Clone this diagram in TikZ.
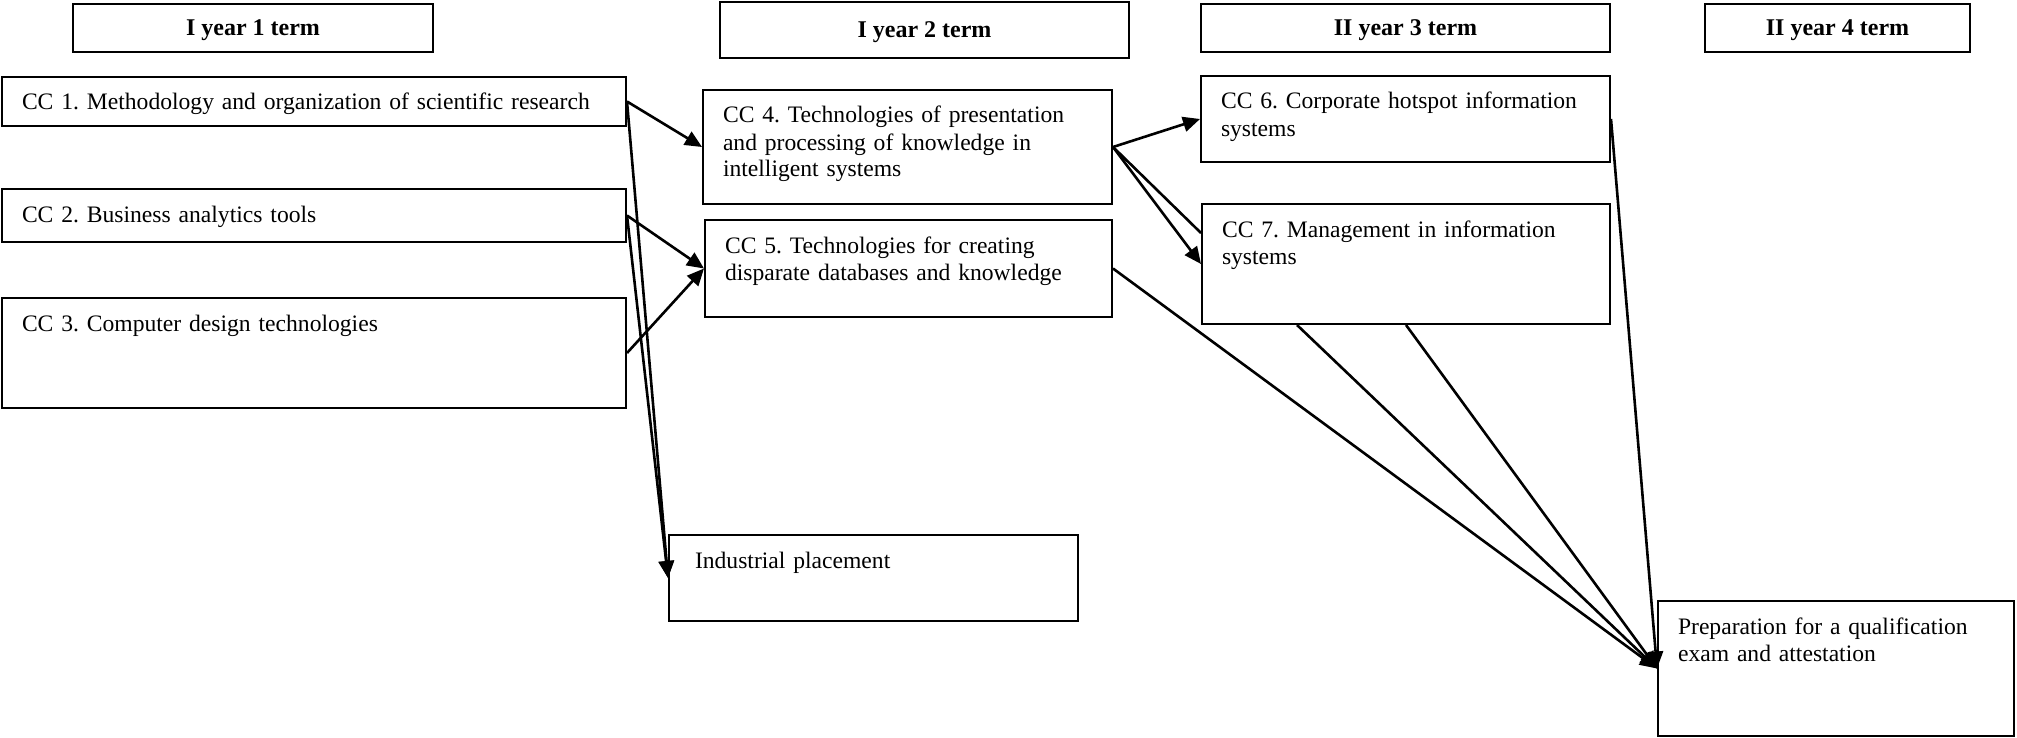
\documentclass[tikz,border=0pt]{standalone}
\usepackage{fontspec}
\setmainfont{Liberation Serif}
\usepackage{tikz}
\usetikzlibrary{positioning}
\usetikzlibrary{arrows.meta}
\frenchspacing

\begin{document}
\begin{tikzpicture}[x=0.5pt, y=-0.5pt,
    every node/.style={font=\fontsize{11.8pt}{13.5pt}\selectfont},
    term/.style 2 args={draw, line width=1pt, anchor=north west, minimum width=#1, minimum height=#2, inner sep=0pt, text depth=0pt, font=\fontsize{12pt}{13.5pt}\selectfont\bfseries},
    course/.style 2 args={draw, line width=1pt, anchor=north west, align=left, inner xsep=10pt, inner ysep=0pt, text height=16.5pt, text width=#1-20pt, text depth=#2-16.5pt},
    arr/.style={-{Triangle[length=8.5pt, width=7.5pt]}, line width=1.3pt}]
            \useasboundingbox (0,0) rectangle (2017,738);

            % Nodos
            \node[term={180pt}{24pt}] (t1) at (72,3) {I year 1 term};
            \node[term={204.5pt}{28pt}] (t2) at (719,1) {I year 2 term};
            \node[term={204.5pt}{24pt}] (t3) at (1200,3) {II year 3 term};
            \node[term={132.5pt}{24pt}] (t4) at (1704,3) {II year 4 term};

            \node[course={312pt}{24.5pt}] (cc1) at (1,76) {CC 1. Methodology and organization of scientific research};
            \node[course={312pt}{26.5pt}] (cc2) at (1,188) {CC 2. Business analytics tools};
            \node[course={312pt}{55pt}] (cc3) at (1,297) {CC 3. Computer design technologies};
            \node[course={204.5pt}{57pt}] (cc4) at (702,89) {CC 4. Technologies of presentation\\and processing of knowledge in\\intelligent systems};
            \node[course={203.5pt}{48.5pt}] (cc5) at (704,219) {CC 5. Technologies for creating\\disparate databases and knowledge};
            \node[course={204.5pt}{43pt}] (cc6) at (1200,75) {CC 6. Corporate hotspot information\\systems};
            \node[course={204pt}{60pt}] (cc7) at (1201,203) {CC 7. Management in information\\systems};
            \node[course={204.5pt}{43pt}] (ip) at (668,534) {\hspace*{3pt}Industrial placement};
            \node[course={178pt}{67.5pt}] (prep) at (1657,600) {Preparation for a qualification\\exam and attestation};

            \coordinate (cc7in) at ([yshift=-15pt]cc7.north west);
            \coordinate (cc7out) at ([xshift=-54.5pt]cc7.south);

            % Aristas
            \draw[arr] (cc1.east) -- (cc4.west);
            \draw[arr] (cc1.east) -- (ip.west);
            \draw[arr] (cc2.east) -- (cc5.west);
            \draw[arr] (cc2.east) -- (ip.west);
            \draw[arr] (cc3.east) -- (cc5.west);
            \draw[arr] (cc4.east) -- (cc6.west);
            \draw[arr] (cc4.east) -- (cc7.west);
            \draw[line width=1.3pt] (cc4.east) -- (cc7in);
            \draw[arr] (cc5.east) -- (prep.west);
            \draw[arr] (cc7out) -- (prep.west);
            \draw[arr] (cc7.south) -- (prep.west);
            \draw[arr] (cc6.east) -- (prep.west);
\end{tikzpicture}
\end{document}
